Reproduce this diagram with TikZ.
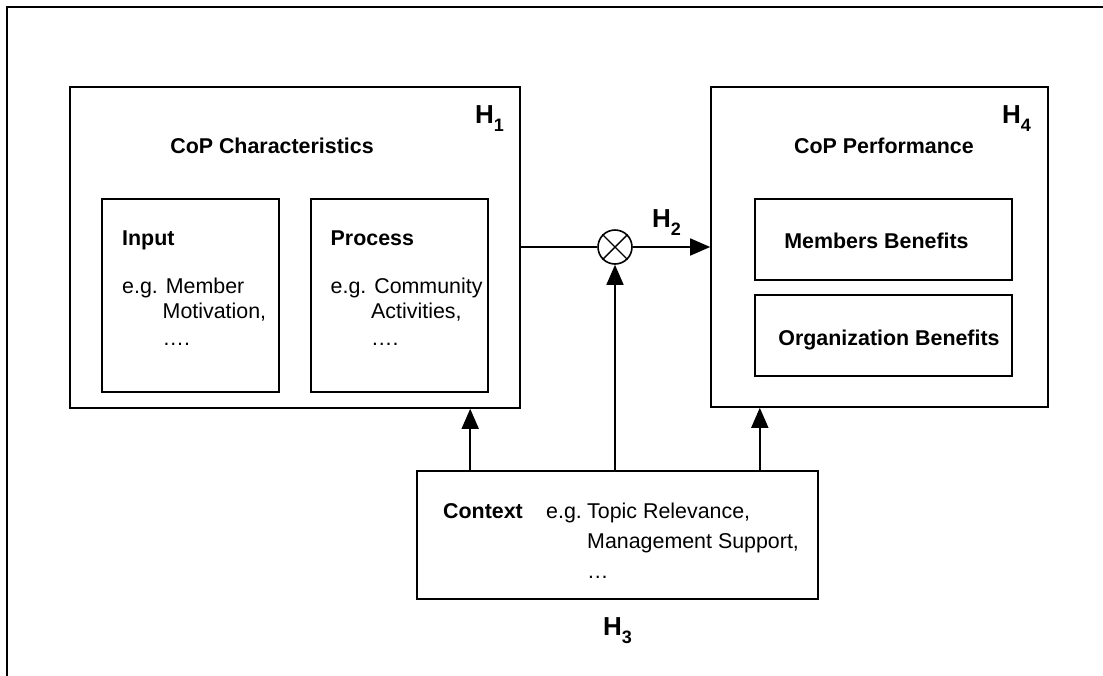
\documentclass[tikz,border=0pt]{standalone}
\usepackage{fontspec}
\setmainfont{Liberation Sans}
\usetikzlibrary{arrows.meta}
\newcommand\hlab[1]{\bfseries{\fontsize{26}{26}\selectfont H}\raisebox{-8pt}{\fontsize{18}{18}\selectfont #1}}
\begin{document}
\begin{tikzpicture}[x=1pt,y=-1pt,
  box/.style={draw, line width=1.6pt, inner sep=0pt},
  txt/.style={inner sep=0pt, anchor=base west, font=\fontsize{21.4}{25}\selectfont},
  btxt/.style={txt, font=\fontsize{21.4}{25}\selectfont\bfseries},
  hl/.style={inner sep=0pt, anchor=base west},
  ln/.style={line width=1.6pt},
  arr/.style={line width=1.6pt, -{Triangle[length=20pt,width=17pt]}}]
\useasboundingbox (0,0) rectangle (1103,675);
% outer frame (left and top edges)
\draw[line width=2.2pt] (7,676) -- (7,7) -- (1104,7);

% left big box
\node[box, minimum width=450pt, minimum height=321pt] (charbox) at (295,247.5) {};
\node[btxt, anchor=base] (chartitle) at (272,153) {CoP Characteristics};
\node[hl] (h1) at (475,123) {\hlab{1}};
\node[box, minimum width=177pt, minimum height=193pt] (input) at (190.5,295.5) {};
\node[box, minimum width=177pt, minimum height=193pt] (process) at (399.5,295.5) {};
\node[btxt] (inT) at (122,245) {Input};
\node[txt] (in1) at (122,293) {e.g. Member};
\node[txt] (in2) at (162.5,318) {Motivation,};
\node[txt] (in3) at (162.5,345) {….};
\node[btxt] (prT) at (330.5,245) {Process};
\node[txt] (pr1) at (330.5,293) {e.g. Community};
\node[txt] (pr2) at (371,318) {Activities,};
\node[txt] (pr3) at (371,345) {….};

% right big box
\node[box, minimum width=337pt, minimum height=320pt] (perfbox) at (879.5,247) {};
\node[btxt, anchor=base] (perftitle) at (884,153) {CoP Performance};
\node[hl] (h4) at (1002,123) {\hlab{4}};
\node[box, minimum width=257pt, minimum height=81pt] (members) at (883.5,239.5) {};
\node[box, minimum width=257pt, minimum height=81pt] (org) at (883.5,335.5) {};
\node[btxt, anchor=base] (memT) at (876.5,248.5) {Members Benefits};
\node[btxt, anchor=base] (orgT) at (889,345) {Organization Benefits};

% multiplier
\node[draw, circle, line width=1.6pt, minimum size=34pt, inner sep=0pt] (mult) at (615,247) {};
\draw[line width=1.4pt] (mult.north west) -- (mult.south east);
\draw[line width=1.4pt] (mult.north east) -- (mult.south west);
\node[hl] (h2) at (652,227) {\hlab{2}};

% context box
\node[box, minimum width=401pt, minimum height=128pt] (context) at (617.5,535) {};
\node[btxt] (ctxT) at (443,518) {Context};
\node[txt] (ctx0) at (546,518) {e.g.};
\node[txt] (ctx1) at (587,518) {Topic Relevance,};
\node[txt] (ctx2) at (587,548) {Management Support,};
\node[txt] (ctx3) at (587,578) {…};
\node[hl] (h3) at (603,635) {\hlab{3}};

% connectors
\draw[ln] (mult.west -| charbox.east) -- (mult.west);
\draw[arr] (mult.east) -- (mult.east -| perfbox.west);
\draw[arr] (context.north -| mult.south) -- (mult.south);
\coordinate (cl) at ([xshift=54pt]context.north west);
\coordinate (cr) at ([xshift=-59pt]context.north east);
\draw[arr] (cl) -- (cl |- charbox.south);
\draw[arr] (cr) -- (cr |- perfbox.south);
\end{tikzpicture}
\end{document}
